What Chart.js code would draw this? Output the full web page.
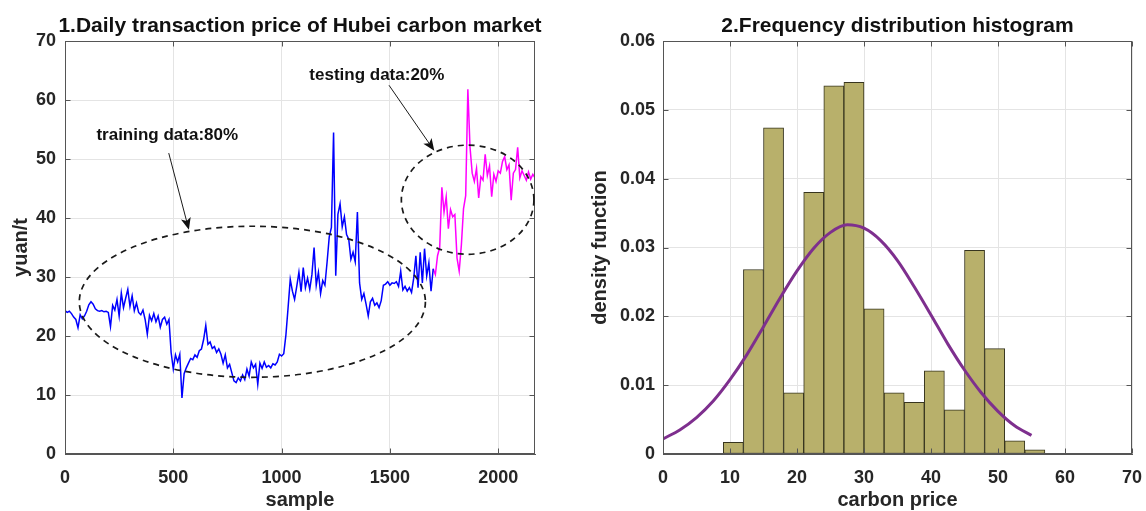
<!DOCTYPE html>
<html><head><meta charset="utf-8">
<script src="https://cdn.jsdelivr.net/npm/chart.js@4.4.1/dist/chart.umd.min.js"></script>
<style>
html,body{margin:0;padding:0;background:#fff;}
#wrap{position:relative;width:1146px;height:511px;overflow:hidden;}
#c1{position:absolute;left:0;top:0;}
#c2{position:absolute;left:573px;top:0;}
</style></head><body>
<div id="wrap"><canvas id="c1" width="573" height="511"></canvas><canvas id="c2" width="573" height="511"></canvas></div>
<script>
// ---------- Panel 1: daily transaction price ----------
const sampleStep = 10;
const trainStart = 0;
const trainPrices = [
24.3,24.0,24.2,23.8,23.2,22.8,21.4,23.6,22.9,23.4,
24.2,25.3,25.8,25.4,24.6,24.3,24.2,24.3,24.1,24.2,
24.0,21.6,25.2,24.4,26.2,23.4,27.3,24.8,26.4,27.9,
25.0,26.8,24.3,25.6,24.0,23.6,24.4,22.8,20.3,23.5,
22.6,23.8,22.4,23.4,21.5,22.8,23.2,22.0,22.8,17.2,
14.4,16.8,15.6,16.9,9.5,13.6,14.6,15.4,16.2,16.0,
16.8,16.4,17.5,17.8,19.4,21.8,18.6,19.0,17.9,18.2,
17.2,17.8,16.9,15.4,16.8,14.6,15.2,13.8,12.4,12.1,
12.9,12.4,13.4,12.6,14.4,13.2,15.6,14.6,15.2,11.8,
15.4,14.5,15.6,14.7,15.0,14.6,15.3,15.1,15.6,16.9,
16.6,17.0,20.2,24.8,29.6,27.6,26.2,28.4,30.8,27.5,
31.6,28.2,29.8,27.9,30.4,35.0,28.6,30.8,27.2,29.4,
28.6,32.5,36.8,38.4,54.5,30.2,40.6,42.4,38.5,40.2,
37.2,36.4,33.0,34.2,32.6,41.0,29.0,26.2,27.2,25.4,
23.4,25.8,26.4,25.2,25.6,24.8,26.0,28.6,28.8,29.2,
28.6,29.0,28.9,29.2,28.4,31.0,27.8,28.4,27.6,28.2,
27.4,29.8,33.6,28.2,34.2,29.0,34.8,30.2,32.4,27.6,
31.4];
const testStart = 1700;
const testPrices = [
31.4,30.4,33.6,35.0,45.2,41.0,43.6,38.2,41.4,40.2,
40.6,33.2,31.0,35.4,41.6,43.8,61.8,52.0,47.6,46.2,
48.4,43.4,47.0,46.4,50.8,47.2,48.8,43.6,47.4,46.2,
48.0,47.6,49.6,50.4,48.2,49.0,43.0,47.6,48.2,52.0,
46.8,48.0,47.2,46.4,47.8,46.6,47.4,46.8];
const sampleTicks = [0, 500, 1000, 1500, 2000];
const priceTicks = [0, 10, 20, 30, 40, 50, 60, 70];

// ---------- Panel 2: histogram ----------
const binStarts = [9,12,15,18,21,24,27,30,33,36,39,42,45,48,51,54,57,60];
const binWidth = 3;
const binDensity = [0.0017,0.0268,0.0474,0.0089,0.0380,0.0535,0.0540,0.0211,0.0089,0.0075,0.0121,0.0064,0.0296,0.0153,0.0019,0.0006,0,0.0001];
const fitPriceX = [0,2.5,5,7.5,10,12.5,15,17.5,20,22.5,25,27.5,30,32.5,35,37.5,40,42.5,45,47.5,50,52.5,55];
const fitDensity = [0.0022,0.0035,0.0053,0.0077,0.0108,0.0144,0.0185,0.0227,0.0266,0.0299,0.0322,0.0333,0.0328,0.0310,0.0281,0.0243,0.0202,0.0160,0.0122,0.0089,0.0062,0.0041,0.0027];
const carbonTicks = [0,10,20,30,40,50,60,70];
const densityTicks = [0,0.01,0.02,0.03,0.04,0.05,0.06];

// ---------- shared styling ----------
const FONT = '"Liberation Sans", Arial, Helvetica, sans-serif';
const TXT = '#262626';
const GRID = '#e4e4e4';
const AXIS = '#555555';

const trainPoints = trainPrices.map((v, i) => ({x: trainStart + i * sampleStep, y: v}));
const testPoints = testPrices.map((v, i) => ({x: testStart + i * sampleStep, y: v}));
const binPoints = binDensity.map((v, i) => ({x: binStarts[i] + binWidth / 2, y: v}));
const fitPoints = fitDensity.map((v, i) => ({x: fitPriceX[i], y: v}));

const boxPlugin = {
  id: 'matlabBox',
  afterDatasetsDraw(chart) {
    const {ctx, chartArea: a, scales: {x, y}} = chart;
    ctx.save();
    ctx.strokeStyle = AXIS;
    ctx.lineWidth = 1;
    const L = Math.round(a.left) + 0.5, R = Math.round(a.right) - 0.5;
    const T = Math.round(a.top) + 0.5, B = Math.round(a.bottom) - 0.5;
    ctx.strokeRect(L, T, R - L, B - T);
    const tl = 5;
    ctx.beginPath();
    x.ticks.forEach(t => {
      const p = Math.round(x.getPixelForValue(t.value)) + 0.5;
      ctx.moveTo(p, B); ctx.lineTo(p, B - tl);
      ctx.moveTo(p, T); ctx.lineTo(p, T + tl);
    });
    y.ticks.forEach(t => {
      const p = Math.round(y.getPixelForValue(t.value)) + 0.5;
      ctx.moveTo(L, p); ctx.lineTo(L + tl, p);
      ctx.moveTo(R, p); ctx.lineTo(R - tl, p);
    });
    ctx.stroke();
    ctx.restore();
  },
  afterDraw(chart) {
    const {ctx, chartArea: a} = chart;
    const t = chart.options.plugins.matlabBox;
    if (!t || !t.title) return;
    ctx.save();
    ctx.fillStyle = '#111';
    ctx.font = 'bold 21px ' + FONT;
    ctx.textAlign = 'center';
    ctx.textBaseline = 'alphabetic';
    ctx.fillText(t.title, (a.left + a.right) / 2, a.top - 9);
    ctx.restore();
  }
};

// annotation settings (in data units)
const ellipses = [
  {cx: 865, cy: 25.8, rx: 799, ry: 12.8},
  {cx: 1859, cy: 43.1, rx: 306, ry: 9.25}
];
const arrows = [
  {x0: 479, y0: 51.0, x1: 572, y1: 38.0},
  {x0: 1496, y0: 62.5, x1: 1705, y1: 51.4}
];
const notes = [
  {text: 'training data:80%', x: 145, y: 53.3},
  {text: 'testing data:20%', x: 1128, y: 63.4}
];

const annotPlugin = {
  id: 'annot',
  afterDatasetsDraw(chart) {
    const {ctx, scales: {x, y}} = chart;
    ctx.save();
    ctx.strokeStyle = '#1a1a1a';
    ctx.lineWidth = 1.7;
    ctx.setLineDash([6, 5]);
    ellipses.forEach(e => {
      const cx = x.getPixelForValue(e.cx), cy = y.getPixelForValue(e.cy);
      const rx = Math.abs(x.getPixelForValue(e.cx + e.rx) - cx);
      const ry = Math.abs(y.getPixelForValue(e.cy + e.ry) - cy);
      ctx.beginPath();
      ctx.ellipse(cx, cy, rx, ry, 0, 0, Math.PI * 2);
      ctx.stroke();
    });
    ctx.setLineDash([]);
    ctx.lineWidth = 1;
    ctx.fillStyle = '#111';
    arrows.forEach(ar => {
      const x0 = x.getPixelForValue(ar.x0), y0 = y.getPixelForValue(ar.y0);
      const x1 = x.getPixelForValue(ar.x1), y1 = y.getPixelForValue(ar.y1);
      const ang = Math.atan2(y1 - y0, x1 - x0);
      const hl = 12, hw = 5, back = 9;
      ctx.beginPath();
      ctx.moveTo(x0, y0);
      ctx.lineTo(x1 - back * Math.cos(ang), y1 - back * Math.sin(ang));
      ctx.stroke();
      const bx = x1 - hl * Math.cos(ang), by = y1 - hl * Math.sin(ang);
      const nx = -Math.sin(ang), ny = Math.cos(ang);
      ctx.beginPath();
      ctx.moveTo(x1, y1);
      ctx.lineTo(bx + nx * hw, by + ny * hw);
      ctx.lineTo(x1 - back * Math.cos(ang), y1 - back * Math.sin(ang));
      ctx.lineTo(bx - nx * hw, by - ny * hw);
      ctx.closePath();
      ctx.fill();
    });
    ctx.font = 'bold 17px ' + FONT;
    ctx.textAlign = 'left';
    ctx.textBaseline = 'alphabetic';
    notes.forEach(n => {
      ctx.fillText(n.text, x.getPixelForValue(n.x), y.getPixelForValue(n.y));
    });
    ctx.restore();
  }
};

function tickFont() { return {family: FONT, size: 18, weight: 'bold'}; }
function titleFont() { return {family: FONT, size: 20, weight: 'bold', lineHeight: 1.1}; }
function fitX(s) { s.height = 57; s.paddingRight = 0; s.paddingLeft = 0; }

new Chart(document.getElementById('c1'), {
  type: 'line',
  data: {
    datasets: [
      {data: trainPoints, borderColor: '#0000ff', borderWidth: 1.5, pointRadius: 0, tension: 0, fill: false},
      {data: testPoints, borderColor: '#ff00ff', borderWidth: 1.5, pointRadius: 0, tension: 0, fill: false}
    ]
  },
  options: {
    responsive: false, animation: false, devicePixelRatio: 1,
    layout: {padding: {top: 41, right: 38, left: 0, bottom: 0}},
    plugins: {legend: {display: false}, tooltip: {enabled: false},
      matlabBox: {title: '1.Daily transaction price of Hubei carbon market'}},
    scales: {
      x: {
        type: 'linear', min: 0, max: 2170,
        afterBuildTicks(s) { s.ticks = sampleTicks.map(v => ({value: v})); },
        afterFit: fitX,
        ticks: {font: tickFont(), color: TXT, padding: 13, maxRotation: 0, callback: v => String(v)},
        grid: {color: GRID, drawTicks: false},
        border: {color: AXIS},
        title: {display: true, text: 'sample', font: titleFont(), color: TXT, padding: {top: 0, bottom: 0}}
      },
      y: {
        type: 'linear', min: 0, max: 70,
        afterBuildTicks(s) { s.ticks = priceTicks.map(v => ({value: v})); },
        afterFit(s) { s.width = 65; },
        ticks: {font: tickFont(), color: TXT, padding: 9, callback: v => String(v)},
        grid: {color: GRID, drawTicks: false},
        border: {color: AXIS},
        title: {display: true, text: 'yuan/t', font: titleFont(), color: TXT, padding: {top: 10, bottom: 0}}
      }
    }
  },
  plugins: [boxPlugin, annotPlugin]
});

new Chart(document.getElementById('c2'), {
  type: 'bar',
  data: {
    datasets: [
      {type: 'line', data: fitPoints, borderColor: '#7e2f8e', borderWidth: 3, pointRadius: 0,
       cubicInterpolationMode: 'monotone', fill: false, order: 0},
      {type: 'bar', data: binPoints, backgroundColor: '#b8b06b', borderColor: '#37351f', borderWidth: 1,
       borderSkipped: false, barPercentage: 1, categoryPercentage: 1, order: 1}
    ]
  },
  options: {
    responsive: false, animation: false, devicePixelRatio: 1,
    layout: {padding: {top: 41, right: 14, left: 0, bottom: 0}},
    plugins: {legend: {display: false}, tooltip: {enabled: false},
      matlabBox: {title: '2.Frequency distribution histogram'}},
    scales: {
      x: {
        type: 'linear', min: 0, max: 70, offset: false,
        afterBuildTicks(s) { s.ticks = carbonTicks.map(v => ({value: v})); },
        afterFit: fitX,
        ticks: {font: tickFont(), color: TXT, padding: 13, maxRotation: 0, callback: v => String(v)},
        grid: {color: GRID, drawTicks: false, offset: false},
        border: {color: AXIS},
        title: {display: true, text: 'carbon price', font: titleFont(), color: TXT, padding: {top: 0, bottom: 0}}
      },
      y: {
        type: 'linear', min: 0, max: 0.06,
        afterBuildTicks(s) { s.ticks = densityTicks.map(v => ({value: v})); },
        afterFit(s) { s.width = 90; },
        ticks: {font: tickFont(), color: TXT, padding: 8,
          callback: v => (v === 0 ? '0' : v.toFixed(2))},
        grid: {color: GRID, drawTicks: false},
        border: {color: AXIS},
        title: {display: true, text: 'density function', font: titleFont(), color: TXT, padding: {top: 16, bottom: 0}}
      }
    }
  },
  plugins: [boxPlugin]
});
</script>
</body></html>
